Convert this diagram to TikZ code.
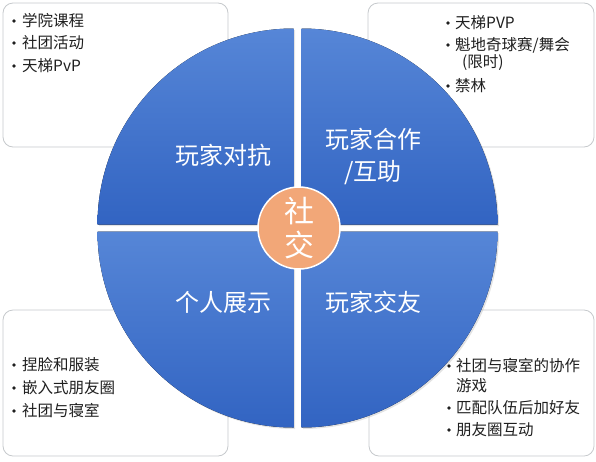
\documentclass[tikz,border=0pt]{standalone}
\usepackage{fontspec}
\setmainfont{Noto Sans CJK SC}
\usetikzlibrary{positioning,shadows}
\definecolor{PieBlueTop}{HTML}{5686D7}
\definecolor{PieBlueBot}{HTML}{3264C2}
\definecolor{HubPeach}{HTML}{F2A778}
\definecolor{BoxLine}{HTML}{C6C9CC}
\definecolor{ListInk}{HTML}{1F1F1F}

\begin{document}
\begin{tikzpicture}[x=1pt, y=-1pt,
  listbox/.style={draw=BoxLine, fill=white, rounded corners=10pt, line width=0.8pt},
  quad/.style={top color=PieBlueTop, bottom color=PieBlueBot,
    drop shadow={opacity=0.22, shadow xshift=1.5pt, shadow yshift=-1.5pt}},
  quadlabel/.style={font=\fontsize{24}{32}\selectfont, text=white, align=center},
  hub/.style={circle, minimum size=82pt, inner sep=0pt, fill=HubPeach, draw=white,
    line width=1.5pt, text=white, align=center, font=\fontsize{30}{34}\selectfont},
  item/.style={font=\fontsize{15.5}{18}\selectfont, text=ListInk, anchor=west, inner sep=0pt},
  bulletdot/.style={circle, fill=ListInk, inner sep=0pt, minimum size=3.6pt}]

\useasboundingbox (0,0) rectangle (596,461);

% side boxes (behind the pie)
\draw[listbox] (3,3) rectangle (228,147);
\draw[listbox] (368,3) rectangle (594,147);
\draw[listbox] (3,310) rectangle (228,456);
\draw[listbox] (369,310) rectangle (594,456);

% pie quadrants
\fill[quad] (293.5,224.5) -- ++(-196,0) arc[start angle=180, end angle=90, radius=196pt] -- cycle;
\fill[quad] (301.5,224.5) -- ++(0,-196) arc[start angle=90, end angle=0, radius=196pt] -- cycle;
\fill[quad] (301.5,231.5) -- ++(196,0) arc[start angle=0, end angle=-90, radius=196pt] -- cycle;
\fill[quad] (293.5,231.5) -- ++(0,196) arc[start angle=270, end angle=180, radius=196pt] -- cycle;

% quadrant labels
\node[quadlabel] (versus) at (223,155) {玩家对抗};
\node[quadlabel] (coop) at (373,156) {玩家合作\\/互助};
\node[quadlabel] (showcase) at (223,302) {个人展示};
\node[quadlabel] (friends) at (373,302) {玩家交友};

% centre
\node[hub] (social) at (299,228) {社\\交};

% top-left list
\node[bulletdot] (tlb1) at (14,21) {};  \node[item] (tl1) at (22,21) {学院课程};
\node[bulletdot] (tlb2) at (14,43) {};  \node[item] (tl2) at (22,43) {社团活动};
\node[bulletdot] (tlb3) at (14,66) {};  \node[item] (tl3) at (22,66) {天梯PvP};

% top-right list
\node[bulletdot] (trb1) at (448,23) {}; \node[item] (tr1) at (455,23) {天梯PVP};
\node[bulletdot] (trb2) at (448,45) {}; \node[item] (tr2) at (455,45) {魁地奇球赛/舞会};
                                        \node[item] (tr2b) at (462,63) {(限时)};
\node[bulletdot] (trb3) at (448,86) {}; \node[item] (tr3) at (455,86) {禁林};

% bottom-left list
\node[bulletdot] (blb1) at (14,365) {}; \node[item] (bl1) at (22,365) {捏脸和服装};
\node[bulletdot] (blb2) at (14,388) {}; \node[item] (bl2) at (22,388) {嵌入式朋友圈};
\node[bulletdot] (blb3) at (14,411) {}; \node[item] (bl3) at (22,411) {社团与寝室};

% bottom-right list
\node[bulletdot] (brb1) at (449,366) {}; \node[item] (br1) at (456,366) {社团与寝室的协作};
                                         \node[item] (br1b) at (456,386) {游戏};
\node[bulletdot] (brb2) at (449,408) {}; \node[item] (br2) at (456,408) {匹配队伍后加好友};
\node[bulletdot] (brb3) at (449,430) {}; \node[item] (br3) at (456,430) {朋友圈互动};
\end{tikzpicture}
\end{document}
